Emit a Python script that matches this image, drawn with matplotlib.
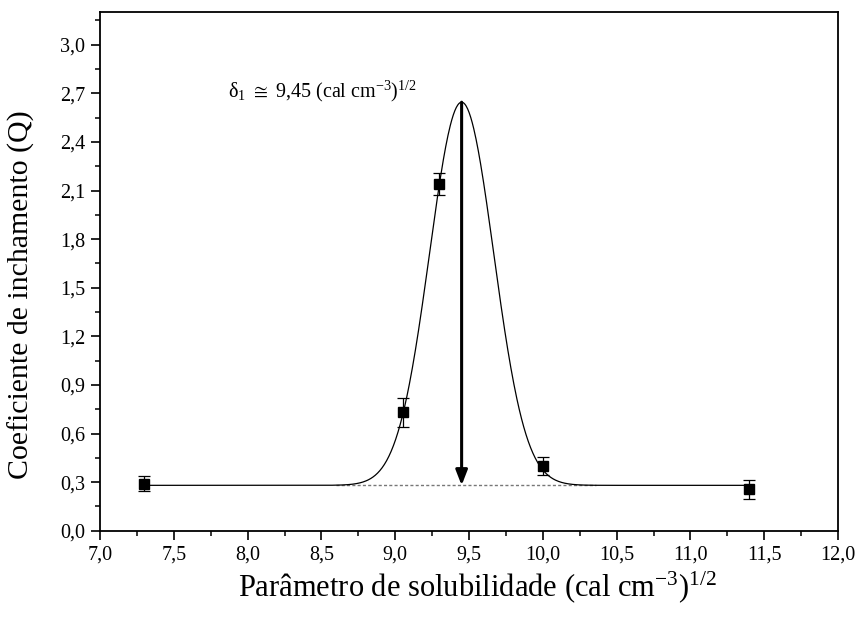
import numpy as np
import matplotlib
matplotlib.use("Agg")
import matplotlib.pyplot as plt
from matplotlib.ticker import MultipleLocator, FuncFormatter

plt.rcParams['font.family'] = ['Liberation Serif', 'DejaVu Serif']
plt.rcParams['mathtext.fontset'] = 'custom'
plt.rcParams['mathtext.rm'] = 'Liberation Serif'
plt.rcParams['mathtext.it'] = 'Liberation Serif'
plt.rcParams['mathtext.bf'] = 'Liberation Serif:bold'

# Measured swelling coefficients
delta = [7.3, 9.05, 9.3, 10.0, 11.4]
Q = [0.29, 0.73, 2.14, 0.40, 0.255]
Q_err = [0.045, 0.09, 0.067, 0.055, 0.06]

# Gaussian fit parameters
fit_center = 9.45
fit_base = 0.28
fit_peak = 2.645
fit_sigma = 0.217

x_ticks = [7.0, 7.5, 8.0, 8.5, 9.0, 9.5, 10.0, 10.5, 11.0, 11.5, 12.0]
y_ticks = [0.0, 0.3, 0.6, 0.9, 1.2, 1.5, 1.8, 2.1, 2.4, 2.7, 3.0]

fig = plt.figure(figsize=(8.59, 6.19), dpi=100)
ax = fig.add_axes([100 / 859, 1 - 530.7 / 619, 738 / 859, 518.4 / 619])

xf = np.linspace(min(delta), max(delta), 800)
yf = fit_base + (fit_peak - fit_base) * np.exp(-(xf - fit_center) ** 2 / (2 * fit_sigma ** 2))

# Baseline reference (dotted)
ax.plot([8.6, 10.36], [fit_base, fit_base], linestyle=(0, (2.2, 1.6)),
        color='#777777', lw=1.0, zorder=1)

ax.plot(xf, yf, color='black', lw=0.9, zorder=2)

ax.errorbar(delta, Q, yerr=Q_err, fmt='s', color='black', ms=7,
            ecolor='black', elinewidth=0.9, capsize=4, capthick=0.9, zorder=3)

# Arrow from peak down to baseline
ax.annotate('', xy=(fit_center, fit_base), xytext=(fit_center, fit_peak),
            arrowprops=dict(arrowstyle='-|>,head_length=0.9,head_width=0.35',
                            color='black', lw=2.2, shrinkA=0, shrinkB=0),
            zorder=4)

ax.text(7.87, 2.71, r'$\delta_{1}$ $\cong$ 9,45 (cal cm$^{-3}$)$^{1/2}$',
        fontsize=14.5, ha='left', va='center')

ax.set_xlim(7.0, 12.0)
ax.set_ylim(0.0, 3.2)
ax.set_xticks(x_ticks)
ax.set_yticks(y_ticks)
ax.xaxis.set_minor_locator(MultipleLocator(0.25))
ax.yaxis.set_minor_locator(MultipleLocator(0.15))
comma = FuncFormatter(lambda v, p: f'{v:.1f}'.replace('.', ','))
ax.xaxis.set_major_formatter(comma)
ax.yaxis.set_major_formatter(comma)

ax.tick_params(which='major', direction='out', length=6.3, width=1.2,
               labelsize=14.5, pad=4.5, top=False, right=False)
ax.tick_params(which='minor', direction='out', length=3.8, width=1.1,
               top=False, right=False)
for s in ax.spines.values():
    s.set_linewidth(1.3)

ax.set_xlabel(r'Parâmetro de solubilidade (cal cm$^{-3}$)$^{1/2}$', fontsize=22,
              va='center')
ax.set_ylabel('Coeficiente de inchamento (Q)', fontsize=21.5, va='center')
ax.xaxis.set_label_coords(0.511, -0.108)
ax.yaxis.set_label_coords(-0.106, 0.455)

fig.savefig('out.png', dpi=100)
